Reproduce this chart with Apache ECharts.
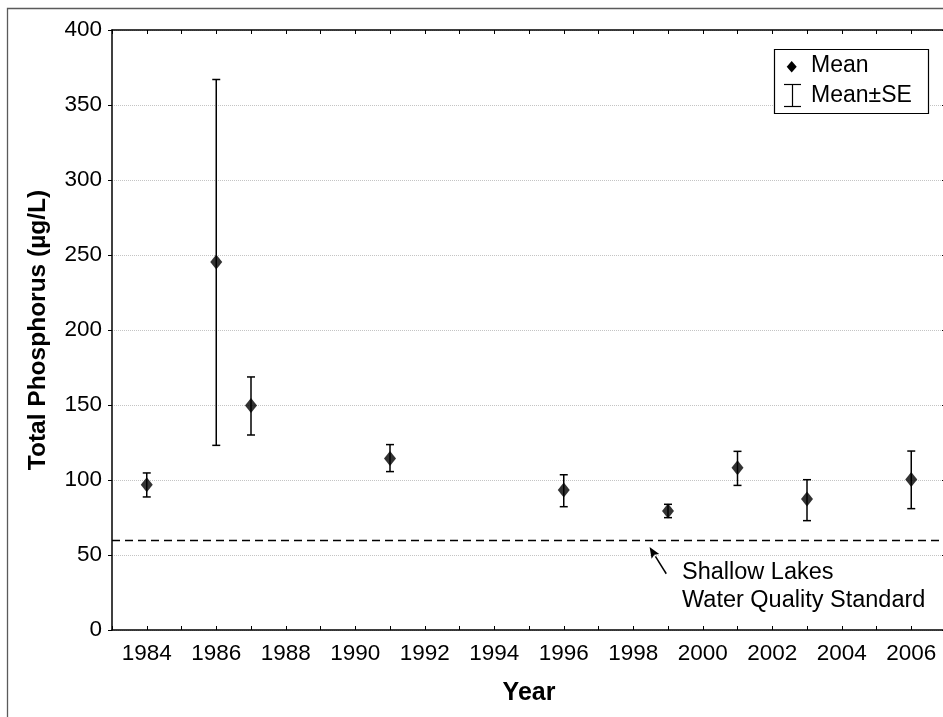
<!DOCTYPE html>
<html>
<head>
<meta charset="utf-8">
<script src="https://cdn.jsdelivr.net/npm/echarts@6/dist/echarts.min.js"></script>
<style>html,body{margin:0;padding:0;background:#fff}#c{width:943px;height:717px}</style>
</head>
<body>
<div id="c"></div>
<script>
// ---- data ----
var years = [1984, 1986, 1987, 1991, 1996, 1999, 2001, 2003, 2006];
var means = [96.9, 245.3, 149.6, 114.4, 93.3, 79.3, 108.2, 87.3, 100.4];
var seLow = [88.7, 123.1, 130.0, 105.6, 82.2, 74.9, 96.4, 72.9, 80.9];
var seHigh = [104.7, 367.0, 168.7, 123.6, 103.5, 83.8, 119.1, 100.2, 119.3];
var standardValue = 60;
var yTicks = [0, 50, 100, 150, 200, 250, 300, 350, 400];
var xLabelYears = [1984, 1986, 1988, 1990, 1992, 1994, 1996, 1998, 2000, 2002, 2004, 2006];
var legendNames = ['Mean', 'Mean±SE'];
var annotationLines = ['Shallow Lakes', 'Water Quality Standard'];

var FONT = "'Liberation Sans', Arial, sans-serif";
var chart = echarts.init(document.getElementById('c'), null, {renderer: 'canvas'});

var meanData = years.map(function (y, i) { return [y, means[i]]; });
var errData = years.map(function (y, i) { return [y, seLow[i], seHigh[i]]; });

var option = {
  backgroundColor: '#fff',
  animation: false,
  grid: {left: 112, top: 30, width: 834, height: 600, show: false, containLabel: false, outerBoundsMode: 'none'},
  xAxis: [{
    type: 'value', min: 1983, max: 2007, interval: 1,
    name: 'Year', nameLocation: 'middle', nameGap: 51,
    nameTextStyle: {fontFamily: FONT, fontSize: 25, fontWeight: 'bold', color: '#000'},
    axisLine: {lineStyle: {color: '#000', width: 1.5}},
    axisTick: {inside: true, length: 4, lineStyle: {color: '#000', width: 1}},
    axisLabel: {
      margin: 12, fontFamily: FONT, fontSize: 22.5, color: '#000',
      formatter: function (v) { return xLabelYears.indexOf(v) >= 0 ? String(v) : ''; }
    },
    splitLine: {show: false}
  }, {
    type: 'value', min: 1983, max: 2007, interval: 1, position: 'top',
    axisLine: {show: true, onZero: false, lineStyle: {color: '#000', width: 1.5}},
    axisTick: {inside: true, length: 4, lineStyle: {color: '#000', width: 1}},
    axisLabel: {show: false}, splitLine: {show: false}
  }],
  yAxis: [{
    type: 'value', min: 0, max: 400, interval: 50,
    name: 'Total Phosphorus (µg/L)', nameLocation: 'middle', nameGap: 61,
    nameTextStyle: {fontFamily: FONT, fontSize: 24.5, fontWeight: 'bold', color: '#000'},
    axisLine: {show: true, lineStyle: {color: '#000', width: 1.5}},
    axisTick: {show: true, inside: false, length: 4, lineStyle: {color: '#000', width: 1}},
    axisLabel: {
      margin: 10, fontFamily: FONT, fontSize: 22.5, color: '#000',
      formatter: function (v) { return yTicks.indexOf(v) >= 0 ? String(v) : ''; }
    },
    splitLine: {show: true, lineStyle: {color: '#c4c4c4', type: 'dotted', width: 1}}
  }, {
    type: 'value', min: 0, max: 400, interval: 50, position: 'right',
    axisLine: {show: true, onZero: false, lineStyle: {color: '#000', width: 1.5}},
    axisTick: {show: true, inside: true, length: 4, lineStyle: {color: '#000', width: 1}},
    axisLabel: {show: false}, splitLine: {show: false}
  }],
  series: [{
    type: 'custom',
    name: 'Mean±SE',
    data: errData,
    z: 3,
    renderItem: function (params, api) {
      var x = api.value(0);
      var lo = api.coord([x, api.value(1)]);
      var hi = api.coord([x, api.value(2)]);
      var cap = 4;
      var style = {stroke: '#000', lineWidth: 1.5};
      return {
        type: 'group',
        children: [
          {type: 'line', shape: {x1: lo[0], y1: lo[1], x2: hi[0], y2: hi[1]}, style: style},
          {type: 'line', shape: {x1: hi[0] - cap, y1: hi[1], x2: hi[0] + cap, y2: hi[1]}, style: style},
          {type: 'line', shape: {x1: lo[0] - cap, y1: lo[1], x2: lo[0] + cap, y2: lo[1]}, style: style}
        ]
      };
    }
  }, {
    type: 'scatter',
    name: 'Mean',
    data: meanData,
    symbol: 'diamond',
    symbolSize: [12, 15],
    itemStyle: {color: '#000'},
    z: 4,
    markLine: {
      silent: true, symbol: 'none',
      label: {show: false},
      lineStyle: {color: '#000', type: [8, 5], width: 1.3},
      data: [{yAxis: standardValue}]
    }
  }]
};
chart.setOption(option);

// annotation + legend + outer frame
var tip = chart.convertToPixel({xAxisIndex: 0, yAxisIndex: 0}, [1998.47, 55.3]);
var tail = chart.convertToPixel({xAxisIndex: 0, yAxisIndex: 0}, [1998.95, 37.5]);
var ang = Math.atan2(tip[1] - tail[1], tip[0] - tail[0]);
var ah = 11, aw = 4.5;
var bx = tip[0] - ah * Math.cos(ang), by = tip[1] - ah * Math.sin(ang);
var px = -Math.sin(ang), py = Math.cos(ang);

chart.setOption({
  graphic: [
    {type: 'rect', shape: {x: 7.5, y: 8.5, width: 1200, height: 1000},
     style: {fill: 'none', stroke: '#5a5a5a', lineWidth: 1.3}, silent: true, z: 0},
    {type: 'line', shape: {x1: tail[0], y1: tail[1], x2: bx, y2: by},
     style: {stroke: '#000', lineWidth: 1.5}, z: 10},
    {type: 'polygon', shape: {points: [[tip[0], tip[1]], [bx + px * aw, by + py * aw], [bx + 2 * Math.cos(ang), by + 2 * Math.sin(ang)], [bx - px * aw, by - py * aw]]},
     style: {fill: '#000'}, z: 10},
    {type: 'text', left: 682, top: 558, z: 10,
     style: {text: annotationLines.join('\n'), fontFamily: FONT, fontSize: 23.5, lineHeight: 28.5, fill: '#000'}},
    // legend
    {type: 'rect', shape: {x: 774.5, y: 49.5, width: 154, height: 64},
     style: {fill: '#fff', stroke: '#000', lineWidth: 1.2}, z: 20},
    {type: 'polygon', shape: {points: [[791.7, 61], [796.7, 66.7], [791.7, 72.4], [786.7, 66.7]]},
     style: {fill: '#000'}, z: 21},
    {type: 'polyline', shape: {points: [[784, 84.5], [801, 84.5]]}, style: {stroke: '#000', lineWidth: 1.2}, z: 21},
    {type: 'polyline', shape: {points: [[792.5, 84.5], [792.5, 106.5]]}, style: {stroke: '#000', lineWidth: 1.2}, z: 21},
    {type: 'polyline', shape: {points: [[784, 106.5], [801, 106.5]]}, style: {stroke: '#000', lineWidth: 1.2}, z: 21},
    {type: 'text', left: 811, top: 54, z: 21,
     style: {text: legendNames[0], fontFamily: FONT, fontSize: 23, fill: '#000'}},
    {type: 'text', left: 811, top: 84, z: 21,
     style: {text: legendNames[1], fontFamily: FONT, fontSize: 23, fill: '#000'}}
  ]
});
</script>
</body>
</html>
